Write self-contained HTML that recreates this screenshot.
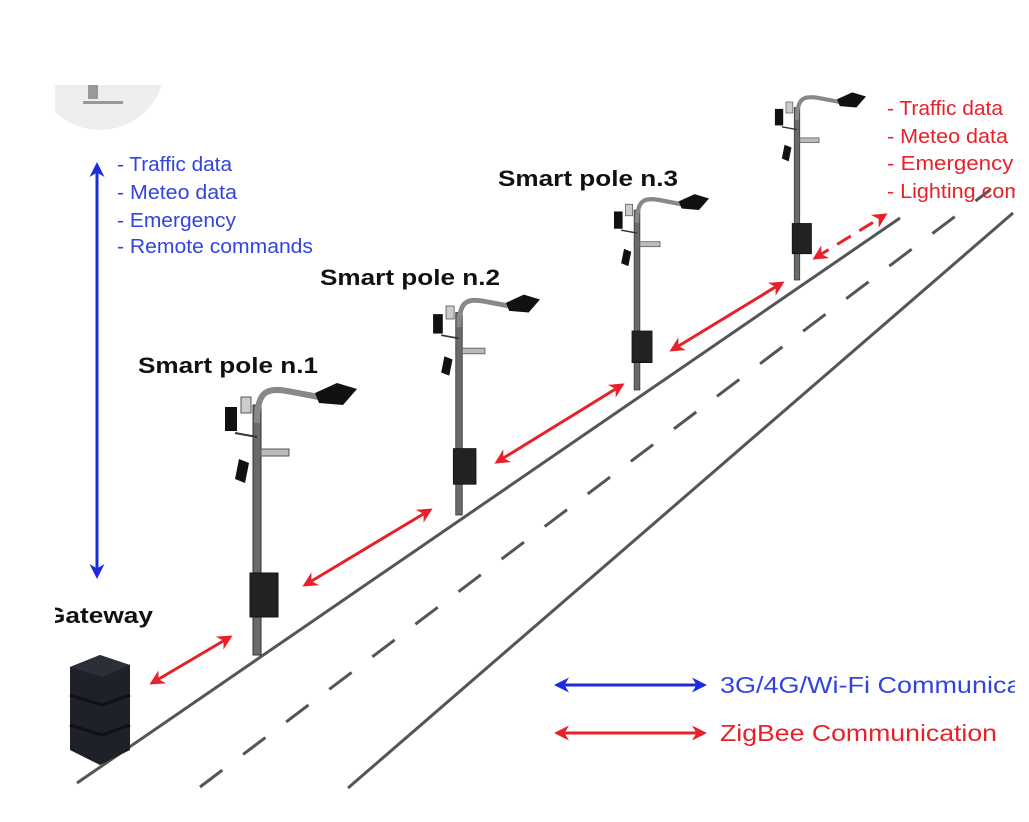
<!DOCTYPE html>
<html><head><meta charset="utf-8"><style>
html,body{margin:0;padding:0;background:#fff;}
svg{display:block}
text{font-family:"Liberation Sans",sans-serif}
</style></head><body>
<svg width="1029" height="822" viewBox="0 0 1029 822" xmlns="http://www.w3.org/2000/svg">
<defs>
<marker id="rb" viewBox="0 0 10 10" refX="8" refY="5" markerWidth="5" markerHeight="5" orient="auto-start-reverse"><path d="M0,0 L10,5 L0,10 L3,5 z" fill="#e8202a"/></marker>
<marker id="bb" viewBox="0 0 10 10" refX="8" refY="5" markerWidth="5" markerHeight="5" orient="auto-start-reverse"><path d="M0,0 L10,5 L0,10 L3,5 z" fill="#1a2be0"/></marker>
<clipPath id="cl"><rect x="55" y="85" width="960" height="705"/></clipPath>
<g id="pole">
  <rect x="-4" y="-250" width="8" height="250" fill="#6a6a6a" stroke="#333" stroke-width="1"/>
  <path d="M0,-232 C0,-262 8,-268 30,-264 L62,-258" fill="none" stroke="#888" stroke-width="6"/>
  <path d="M58,-262 L80,-272 L100,-266 L86,-250 L62,-252 z" fill="#111"/>
  <rect x="-32" y="-248" width="12" height="24" fill="#111"/>
  <rect x="-16" y="-258" width="10" height="16" fill="#ccc" stroke="#555" stroke-width="1"/>
  <path d="M-22,-222 L0,-218" stroke="#333" stroke-width="2"/>
  <rect x="4" y="-206" width="28" height="7" fill="#bbb" stroke="#555" stroke-width="1"/>
  <path d="M-18,-196 L-8,-192 L-12,-172 L-22,-176 z" fill="#111"/>
  <rect x="-7" y="-82" width="28" height="44" fill="#222" stroke="#111"/>
</g>
</defs>

<circle cx="100" cy="65" r="65" fill="#eeeeec" clip-path="url(#cl)"/>
<rect x="88" y="85" width="10" height="14" fill="#999"/>
<rect x="83" y="101" width="40" height="3" fill="#999"/>

<g clip-path="url(#cl)">
<line x1="77" y1="783" x2="900" y2="218" stroke="#555" stroke-width="3"/>
<line x1="348" y1="788" x2="1013" y2="213" stroke="#555" stroke-width="3"/>
<line x1="200" y1="787" x2="990" y2="190" stroke="#555" stroke-width="3" stroke-dasharray="28,26"/>

<use href="#pole" transform="translate(257,655)"/>
<use href="#pole" transform="translate(459,515) scale(0.81)"/>
<use href="#pole" transform="translate(637,390) scale(0.72)"/>
<use href="#pole" transform="translate(797,280) scale(0.69)"/>

<g transform="translate(70,655)">
  <path d="M0,12 L30,0 L60,10 L60,95 L30,110 L0,95 z" fill="#1f2128"/>
  <path d="M0,12 L30,0 L60,10 L32,22 z" fill="#2c2f38"/>
  <path d="M0,40 L32,50 L60,40 M0,70 L32,80 L60,70" stroke="#111" stroke-width="3" fill="none"/>
</g>

<g stroke="#e8202a" stroke-width="3" fill="none">
<line x1="152" y1="683" x2="230" y2="637" marker-start="url(#rb)" marker-end="url(#rb)"/>
<line x1="305" y1="585" x2="430" y2="510" marker-start="url(#rb)" marker-end="url(#rb)"/>
<line x1="497" y1="462" x2="622" y2="385" marker-start="url(#rb)" marker-end="url(#rb)"/>
<line x1="672" y1="350" x2="782" y2="283" marker-start="url(#rb)" marker-end="url(#rb)"/>
<line x1="815" y1="258" x2="885" y2="215" stroke-dasharray="16,10" marker-start="url(#rb)" marker-end="url(#rb)"/>
</g>
<line x1="97" y1="165" x2="97" y2="576" stroke="#1a2be0" stroke-width="3" marker-start="url(#bb)" marker-end="url(#bb)"/>
<line x1="557" y1="685" x2="704" y2="685" stroke="#1a2be0" stroke-width="3" marker-start="url(#bb)" marker-end="url(#bb)"/>
<line x1="557" y1="733" x2="704" y2="733" stroke="#e8202a" stroke-width="3" marker-start="url(#rb)" marker-end="url(#rb)"/>

<g font-size="20" fill="#3344dd">
<text x="117" y="171" textLength="115" lengthAdjust="spacingAndGlyphs">- Traffic data</text>
<text x="117" y="199" textLength="120" lengthAdjust="spacingAndGlyphs">- Meteo data</text>
<text x="117" y="227" textLength="119" lengthAdjust="spacingAndGlyphs">- Emergency</text>
<text x="117" y="253" textLength="196" lengthAdjust="spacingAndGlyphs">- Remote commands</text>
</g>
<g font-size="20" fill="#e8202a">
<text x="887" y="115" textLength="116" lengthAdjust="spacingAndGlyphs">- Traffic data</text>
<text x="887" y="143" textLength="121" lengthAdjust="spacingAndGlyphs">- Meteo data</text>
<text x="887" y="170" textLength="140" lengthAdjust="spacingAndGlyphs">- Emergency -</text>
<text x="887" y="198" textLength="200" lengthAdjust="spacingAndGlyphs">- Lighting commands</text>
</g>
<g font-size="22" font-weight="bold" fill="#111">
<text x="138" y="373" textLength="180" lengthAdjust="spacingAndGlyphs">Smart pole n.1</text>
<text x="320" y="285" textLength="180" lengthAdjust="spacingAndGlyphs">Smart pole n.2</text>
<text x="498" y="186" textLength="180" lengthAdjust="spacingAndGlyphs">Smart pole n.3</text>
<text x="45" y="623" textLength="108" lengthAdjust="spacingAndGlyphs">Gateway</text>
</g>
<text x="720" y="693" font-size="23" fill="#3344dd" textLength="345" lengthAdjust="spacingAndGlyphs">3G/4G/Wi-Fi Communication</text>
<text x="720" y="741" font-size="23" fill="#e8202a" textLength="277" lengthAdjust="spacingAndGlyphs">ZigBee Communication</text>
</g>
</svg>
</body></html>
